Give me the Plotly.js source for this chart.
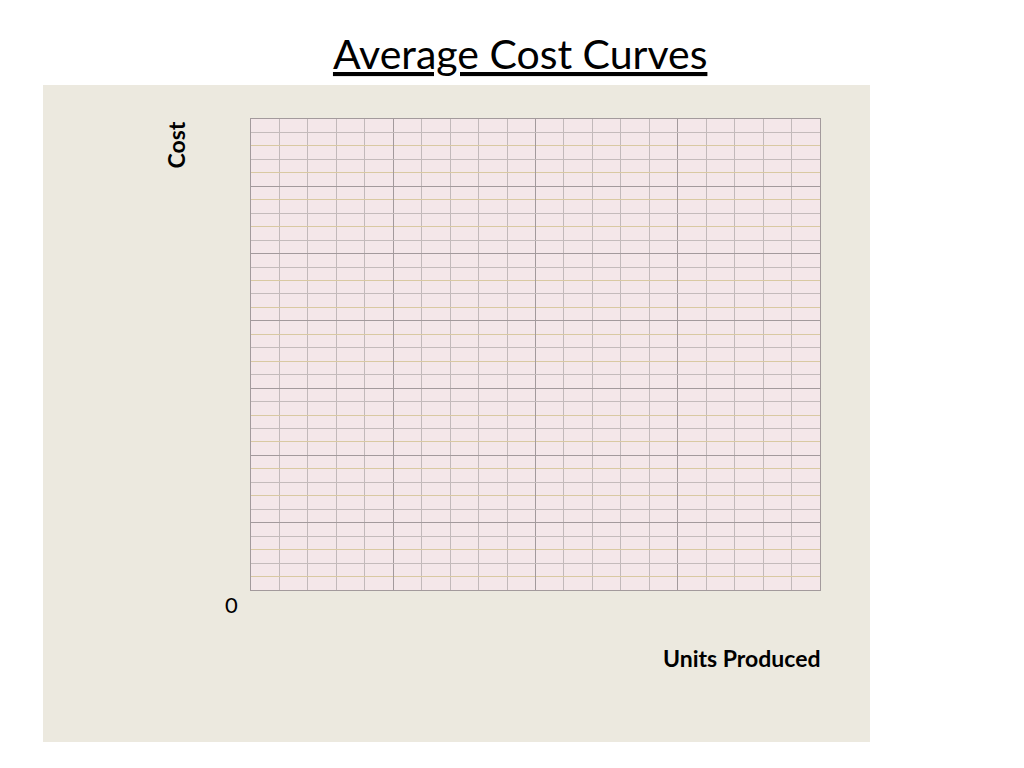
<!DOCTYPE html>
<html>
<head>
<meta charset="utf-8">
<script src="https://cdn.plot.ly/plotly-3.0.1.min.js"></script>
<style>
  html, body { margin: 0; padding: 0; background: #ffffff; }
  #chart { width: 1024px; height: 768px; }
</style>
</head>
<body>
<div id="chart"></div>
<script>
// Axis extents (grid units) and labels
const xRange = [0, 20];
const yRange = [0, 35];
const xMajorStep = 5;
const xMinorStep = 1;
const yMajorStep = 5;
const yMidStep = 2;
const yMinorStep = 1;
const titleText = "Average Cost Curves";
const xLabel = "Units Produced";
const yLabel = "Cost";
const originLabel = "0";

const data = [
  { x: [], y: [], type: 'scatter', mode: 'lines', showlegend: false, hoverinfo: 'skip' },
  { x: [], y: [], yaxis: 'y2', type: 'scatter', mode: 'lines', showlegend: false, hoverinfo: 'skip' }
];

const FONT = 'Lato, "Open Sans", "Liberation Sans", sans-serif';

const layout = {
  width: 1024,
  height: 768,
  margin: { l: 251, r: 204, t: 119, b: 178, pad: 0 },
  paper_bgcolor: '#ffffff',
  plot_bgcolor: '#f4e7e9',
  showlegend: false,
  font: { family: FONT, color: '#000000' },
  title: {
    text: '<u>' + titleText + '</u>',
    font: { family: FONT, size: 41, color: '#000000' },
    x: 0.508, xanchor: 'center',
    y: 1 - 69 / 768, yanchor: 'bottom', yref: 'container'
  },
  xaxis: {
    range: xRange,
    dtick: xMajorStep,
    showgrid: true,
    gridcolor: '#a39a9c',
    gridwidth: 1,
    minor: { dtick: xMinorStep, showgrid: true, gridcolor: '#c2b9ba', gridwidth: 1, ticks: '' },
    showticklabels: false,
    ticks: '',
    zeroline: false,
    showline: true, linecolor: '#a39a9c', linewidth: 1, mirror: true,
    fixedrange: true
  },
  yaxis: {
    range: yRange,
    dtick: yMidStep,
    showgrid: true,
    gridcolor: '#c4bbbb',
    gridwidth: 1,
    minor: { dtick: yMinorStep, showgrid: true, gridcolor: '#d9c9a2', gridwidth: 1, ticks: '' },
    showticklabels: false,
    ticks: '',
    zeroline: false,
    showline: true, linecolor: '#a39a9c', linewidth: 1, mirror: true,
    fixedrange: true
  },
  yaxis2: {
    overlaying: 'y',
    range: yRange,
    dtick: yMajorStep,
    showgrid: true,
    gridcolor: '#a39a9c',
    gridwidth: 1,
    showticklabels: false,
    ticks: '',
    zeroline: false,
    showline: false,
    fixedrange: true
  },
  shapes: [
    {
      type: 'rect', xref: 'paper', yref: 'paper', layer: 'below',
      x0: -208 / 569, x1: 619 / 569,
      y0: -152 / 471, y1: 505 / 471,
      fillcolor: '#ece9df', line: { width: 0 }
    },
    {
      type: 'rect', xref: 'x domain', yref: 'y domain', layer: 'below',
      x0: 0, x1: 1, y0: 0, y1: 1,
      fillcolor: '#f4e7e9', line: { width: 0 }
    }
  ],
  annotations: [
    {
      text: '<b>' + yLabel + '</b>', textangle: -90,
      xref: 'paper', yref: 'paper',
      x: -76 / 569, y: 1 - (171 - 119) / 471,
      xanchor: 'center', yanchor: 'bottom',
      showarrow: false,
      font: { family: FONT, size: 23, color: '#000000' }
    },
    {
      text: originLabel,
      xref: 'paper', yref: 'paper',
      x: -20 / 569, y: -14 / 471,
      xanchor: 'center', yanchor: 'middle',
      showarrow: false,
      font: { family: FONT, size: 22, color: '#000000' }
    },
    {
      text: '<b>' + xLabel + '</b>',
      xref: 'paper', yref: 'paper',
      x: 1.006, y: -68 / 471,
      xanchor: 'right', yanchor: 'middle',
      showarrow: false,
      font: { family: FONT, size: 23, color: '#000000' }
    }
  ]
};

Plotly.newPlot('chart', data, layout, { displayModeBar: false, staticPlot: true });
</script>
</body>
</html>
